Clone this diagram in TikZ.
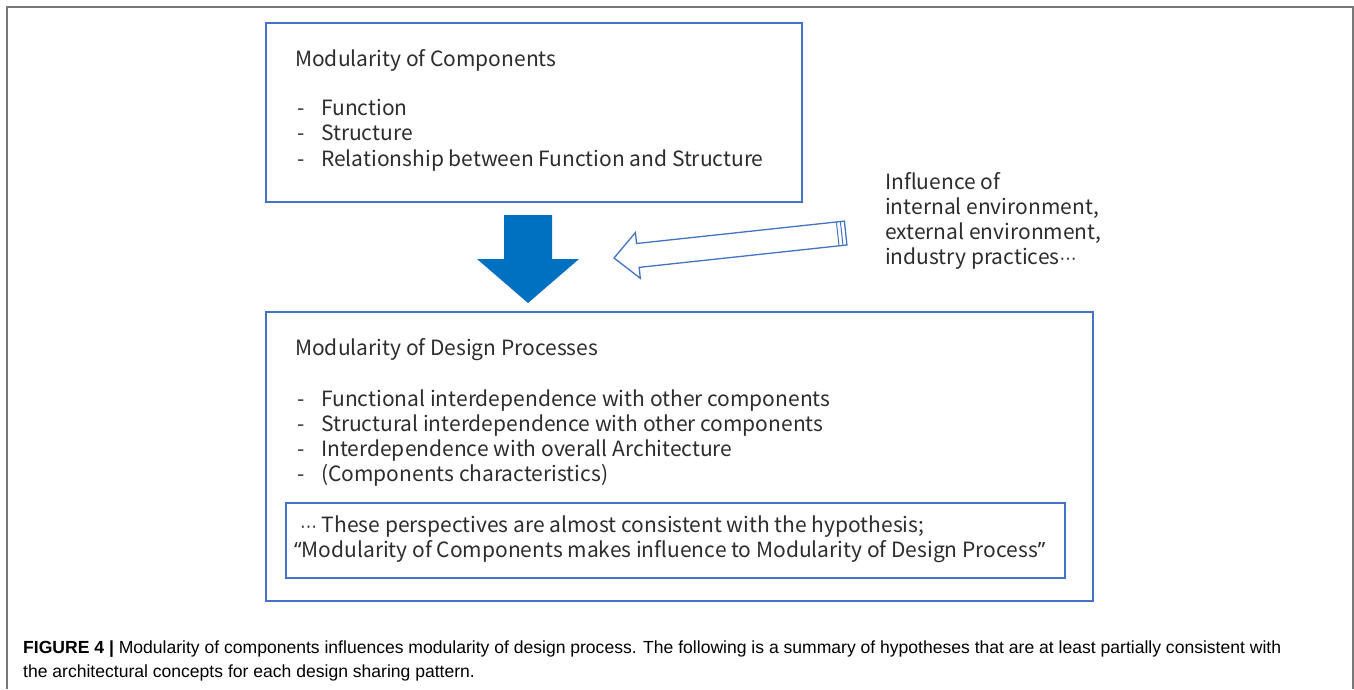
\documentclass[tikz,border=0pt]{standalone}
\usepackage{fontspec}
\setmainfont{Liberation Sans}
\newfontfamily\jpf{Noto Sans CJK JP}
\newfontfamily\latq{Noto Sans}
\newfontfamily\dvs{DejaVu Sans}
\newfontfamily\capf{Liberation Sans}
\definecolor{boxblue}{RGB}{68,114,196}
\definecolor{arrblue}{RGB}{0,112,192}
\definecolor{framegray}{RGB}{120,120,120}
\definecolor{txt}{RGB}{45,45,45}
\newcommand{\mdots}{{\dvs\fontsize{17}{25}\selectfont ⋯}}
\begin{document}
\begin{tikzpicture}[x=1pt,y=-1pt,
  boxtxt/.style={anchor=base west, inner sep=0pt, font=\jpf\fontsize{21}{25}\selectfont, text=txt},
  captxt/.style={anchor=base west, inner sep=0pt, font=\capf\fontsize{17.55}{24}\selectfont, text=black},
  blbox/.style={draw=boxblue, line width=1.5pt, inner sep=0pt},
  hollow/.style={draw=boxblue, line width=1.3pt, fill=white, line join=miter}]
\useasboundingbox (0,0) rectangle (1354,689);
\fill[white] (0,0) rectangle (1354,689);
\draw[framegray, line width=2pt] (7,689) -- (7,7) -- (1353,7) -- (1353,689);

% boxes
\node[blbox, minimum width=536pt, minimum height=179pt] (top) at (534,112.5) {};
\node[blbox, minimum width=827pt, minimum height=289pt] (bot) at (679.5,456.5) {};
\node[blbox, line width=1.8pt, minimum width=779pt, minimum height=75pt] (inner) at (675.25,540.5) {};

% top box text
\node[boxtxt] (t0) at (295,66) {Modularity of Components};
\node[boxtxt] (t1d) at (297,115) {-};
\node[boxtxt] (t1) at (321,115) {Function};
\node[boxtxt] (t2d) at (297,140) {-};
\node[boxtxt] (t2) at (321,140) {Structure};
\node[boxtxt] (t3d) at (297,166) {-};
\node[boxtxt] (t3) at (321,166) {Relationship between Function and Structure};

% bottom box text
\node[boxtxt] (b0) at (295,355) {Modularity of Design Processes};
\node[boxtxt] (b1d) at (297,406) {-};
\node[boxtxt] (b1) at (321,406) {Functional interdependence with other components};
\node[boxtxt] (b2d) at (297,431) {-};
\node[boxtxt] (b2) at (321,431) {Structural interdependence with other components};
\node[boxtxt] (b3d) at (297,456) {-};
\node[boxtxt] (b3) at (321,456) {Interdependence with overall Architecture};
\node[boxtxt] (b4d) at (297,481) {-};
\node[boxtxt] (b4) at (321,481) {(Components characteristics)};
\node[boxtxt] (i1) at (300,532) {\mdots\ These perspectives are almost consistent with the hypothesis;};
\node[boxtxt] (i2) at (294,557) {{\latq “}Modularity of Components makes influence to Modularity of Design Process{\latq ”}};

% influence text
\node[boxtxt] (f1) at (885,189) {Influence of};
\node[boxtxt] (f2) at (885,214) {internal environment,};
\node[boxtxt] (f3) at (885,239) {external environment,};
\node[boxtxt] (f4) at (885,264) {industry practices\mdots};

% down arrow
\fill[arrblue] (504,215) -- (552,215) -- (552,259) -- (579,259) -- (528,303) -- (477,259) -- (504,259) -- cycle;

% hollow arrow
\begin{scope}[shift={(614pt,-258pt)}, x={(0.9942pt,0.1071pt)}, y={(-0.1071pt,0.9942pt)}]
  \draw[hollow] (0,0) -- (24,23) -- (24,12) -- (233,12) -- (233,-12) -- (24,-12) -- (24,-23) -- cycle;
  \draw[boxblue, line width=1pt] (225,12) -- (225,-12);
  \draw[boxblue, line width=1pt] (229,12) -- (229,-12);
\end{scope}

% caption
\node[captxt] (c1) at (23,653) {\textbf{FIGURE 4 |} Modularity of components influences modularity of design process. The following is a summary of hypotheses that are at least partially consistent with};
\node[captxt] (c2) at (23,677) {the architectural concepts for each design sharing pattern.};
\end{tikzpicture}
\end{document}
